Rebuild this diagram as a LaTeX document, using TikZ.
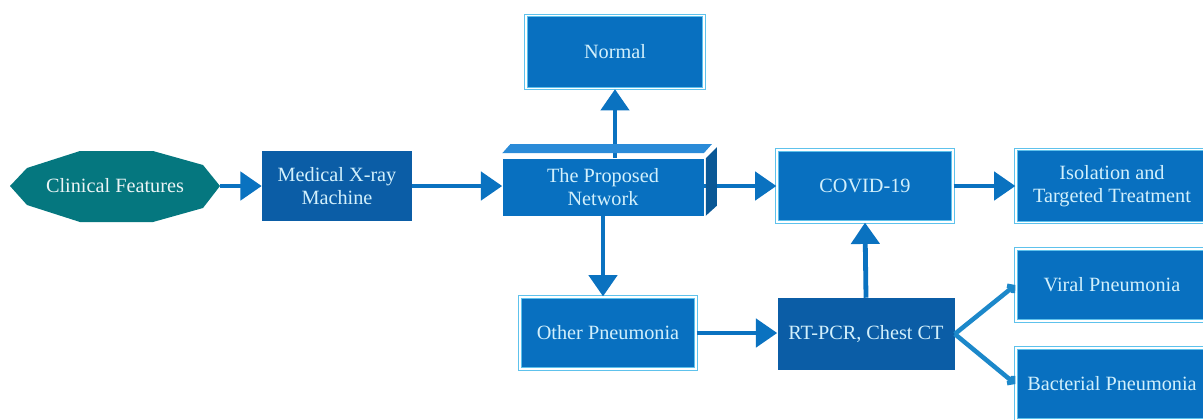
\documentclass[tikz,border=0pt]{standalone}
\usepackage{fontspec}
\setmainfont{Liberation Serif}
\newfontfamily\boxfont{Liberation Serif}
\usetikzlibrary{arrows.meta,calc}
\definecolor{boxblue}{HTML}{0870C0}
\definecolor{darkblue}{HTML}{0B5DA6}
\definecolor{edgeblue}{HTML}{5EC2EC}
\definecolor{topblue}{HTML}{2A8BD8}
\definecolor{sideblue}{HTML}{0A5896}
\definecolor{clinteal}{HTML}{05777F}
\definecolor{txtcyan}{HTML}{D2F0FC}
\definecolor{arrblue}{HTML}{0A72C0}
\definecolor{branchblue}{HTML}{1C88CA}
\begin{document}
\begin{tikzpicture}[x=0.75pt,y=-0.75pt,
  every node/.style={font=\boxfont\fontsize{15.2}{17.5}\selectfont,text=txtcyan,align=center,inner sep=0pt},
  box/.style={fill=boxblue,draw=edgeblue,line width=0.7pt,double=white,double distance=1.1pt},
  darkbox/.style={fill=darkblue},
  arr/.style={draw=arrblue,line width=3.6pt,-{Triangle[length=16pt,width=21pt]}},
  branch/.style={draw=branchblue,line width=3.4pt,-{Straight Barb[length=3pt,width=7pt]}}]
  \clip (0,0) rectangle (1203,419);
  % left part
  \fill[clinteal] (10,186) -- (27,168) -- (80,151) -- (153,151) -- (203,165) -- (220,186)
    -- (203,208) -- (153,222) -- (80,222) -- (27,205) -- cycle;
  \node[minimum width=157.5pt,minimum height=53pt,text=white!92!clinteal] (clin) at (115,186) {Clinical Features};
  \node[darkbox,minimum width=112.5pt,minimum height=52.5pt] (medical) at (337,186) {Medical X-ray\\Machine};
  % the network block
  \node[fill=boxblue,minimum width=150.75pt,minimum height=42.75pt] (net) at (603,187) {The Proposed\\Network};
  \node[box,minimum width=133.7pt,minimum height=55pt] (normal) at (615,52) {Normal};
  \node[box,minimum width=132.2pt,minimum height=54.2pt] (other) at (608,333) {Other Pneumonia};
  \node[box,minimum width=132.2pt,minimum height=54.2pt] (covid) at (865,186) {COVID-19};
  \draw[arr] (clin.east) -- (medical.west);
  \draw[arr] (medical.east) -- (medical.east -| net.west);
  \draw[arr] (normal.south |- net.north) -- (normal.south);
  \draw[arr] (covid.west -| net.east) -- (covid.west);
  \draw[arr] (net.south) -- (net.south |- other.north);
  \fill[topblue] ($(net.north west)+(0,-5)$) -- ($(net.north east)+(0,-5)$)
    -- ($(net.north east)+(8,-14)$) -- ($(net.north west)+(8,-14)$) -- cycle;
  \fill[sideblue] ($(net.north east)+(2,0)$) -- ($(net.south east)+(2,0)$)
    -- ($(net.south east)+(13,-10)$) -- ($(net.north east)+(13,-11)$) -- cycle;
  % right part
  \node[box,minimum width=144.2pt,minimum height=55pt] (iso) at (1112,186) {Isolation and\\Targeted Treatment};
  \node[darkbox,minimum width=132.75pt,minimum height=54pt] (rtpcr) at (866,334) {RT-PCR, Chest CT};
  \node[box,minimum width=144.2pt,minimum height=54.2pt] (viral) at (1112,285) {Viral Pneumonia};
  \node[box,minimum width=144.2pt,minimum height=54.2pt] (bact) at (1112,384) {Bacterial Pneumonia};
  \draw[arr] (covid.east) -- (iso.west);
  \draw[arr] (other.east) -- (other.east -| rtpcr.west);
  \draw[arr] (rtpcr.north) -- (covid.south);
  \draw[branch] (rtpcr.east) -- (viral.west);
  \draw[branch] (rtpcr.east) -- (bact.west);
\end{tikzpicture}
\end{document}
